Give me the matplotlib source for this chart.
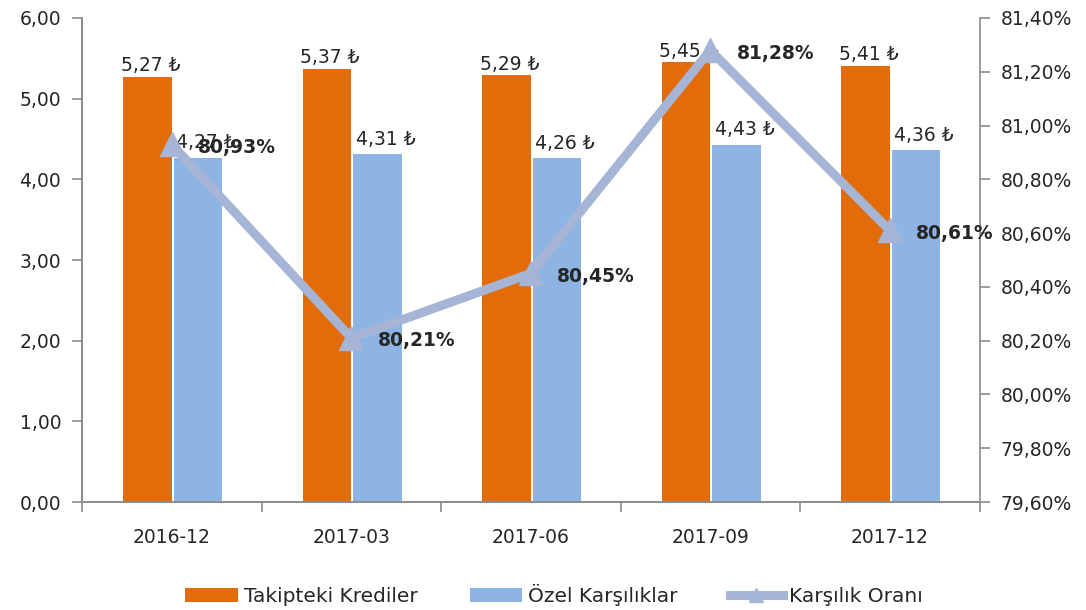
import numpy as np
import matplotlib

matplotlib.use("Agg")
import matplotlib.pyplot as plt
from matplotlib.lines import Line2D
from matplotlib.ticker import FuncFormatter

plt.rcParams["font.family"] = ["DejaVu Sans"]

# Data
periods = ["2016-12", "2017-03", "2017-06", "2017-09", "2017-12"]
takipteki = [5.27, 5.37, 5.29, 5.45, 5.41]
ozel = [4.27, 4.31, 4.26, 4.43, 4.36]
oran = [80.93, 80.21, 80.45, 81.28, 80.61]

C_ORANGE = "#E36C0A"
C_BLUE = "#8EB4E3"
C_LINE = "#A6B5D5"
C_TEXT = "#262626"
C_SPINE = "#8C8C8C"
FS = 13.5


def tr_num(v, nd=2):
    return f"{v:.{nd}f}".replace(".", ",")


fig = plt.figure(figsize=(10.86, 6.10), dpi=100)
ax = fig.add_axes([0.0755, 0.177, 0.8265, 0.7935])
ax2 = ax.twinx()

x = np.arange(len(periods))
w = 0.27
b1 = ax.bar(x - 0.135, takipteki, w, color=C_ORANGE)
b2 = ax.bar(x + 0.145, ozel, w, color=C_BLUE)

for xi, v in zip(x - 0.135, takipteki):
    ax.annotate(f"{tr_num(v)} ₺", (xi, v), xytext=(2, 1), textcoords="offset points",
                ha="center", va="bottom", fontsize=FS, color=C_TEXT)
for xi, v in zip(x + 0.145, ozel):
    ax.annotate(f"{tr_num(v)} ₺", (xi, v), xytext=(6, 4), textcoords="offset points",
                ha="center", va="bottom", fontsize=FS, color=C_TEXT)

ax2.plot(x, oran, color=C_LINE, lw=6.5, marker="^", markersize=17,
         solid_joinstyle="miter")
for xi, v in zip(x, oran):
    ax2.annotate(f"{tr_num(v)}%", (xi, v), xytext=(19, -2), textcoords="offset points",
                 ha="left", va="center", fontsize=FS, fontweight="bold", color=C_TEXT)

ax.set_xlim(-0.5, len(periods) - 0.5)
ax.set_ylim(0, 6)
ax.set_yticks(np.arange(0, 6.01, 1))
ax.yaxis.set_major_formatter(FuncFormatter(lambda v, p: tr_num(v)))
ax2.set_ylim(79.6, 81.4)
ax2.set_yticks(np.arange(79.6, 81.41, 0.2))
ax2.yaxis.set_major_formatter(FuncFormatter(lambda v, p: tr_num(v) + "%"))

# category labels centred, tick marks on the boundaries
ax.set_xticks(np.arange(-0.5, len(periods), 1.0))
ax.set_xticklabels([])
ax.set_xticks(x, minor=True)
ax.set_xticklabels(periods, minor=True)
ax.tick_params(axis="x", which="minor", length=0, pad=19, labelsize=FS, colors=C_TEXT)
ax.tick_params(axis="x", which="major", length=7, color=C_SPINE, width=1.2)
ax.tick_params(axis="y", length=7, color=C_SPINE, width=1.2, labelsize=FS,
               labelcolor=C_TEXT, pad=8)
ax2.tick_params(axis="y", length=7, color=C_SPINE, width=1.2, labelsize=FS,
                labelcolor=C_TEXT, pad=8)

for a in (ax, ax2):
    a.spines["top"].set_visible(False)
    for s in ("left", "right", "bottom"):
        a.spines[s].set_color(C_SPINE)
        a.spines[s].set_linewidth(1.2)
ax.spines["right"].set_visible(False)

line_handle = Line2D([], [], color=C_LINE, lw=6.5, marker="^", markersize=10)
fig.legend(handles=[b1, b2, line_handle],
           labels=["Takipteki Krediler", "Özel Karşılıklar", "Karşılık Oranı"],
           loc="center", bbox_to_anchor=(0.51, 0.025), ncol=3,
           frameon=False, fontsize=14.5, handlelength=2.6, handletextpad=0.3,
           columnspacing=2.6, labelcolor=C_TEXT)

fig.savefig("out.png", dpi=100)
